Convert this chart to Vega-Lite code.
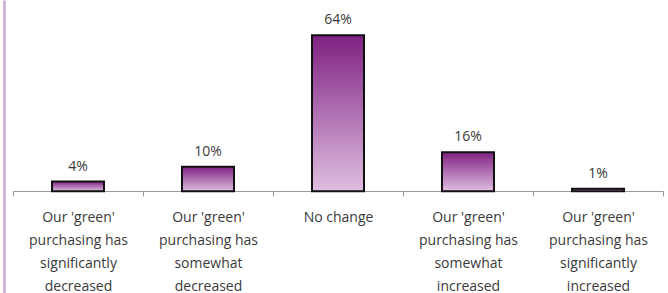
{
  "$schema": "https://vega.github.io/schema/vega-lite/v6.json",
  "width": 650,
  "height": 293,
  "autosize": {"type": "none"},
  "padding": {"left": 13, "top": 0, "right": 5, "bottom": 0},
  "background": "white",
  "config": {"view": {"stroke": null}, "font": "Open Sans"},
  "data": {"values": [
    {"category": "Our 'green'|purchasing has|significantly|decreased", "share": 4, "label": "4%"},
    {"category": "Our 'green'|purchasing has|somewhat|decreased", "share": 10, "label": "10%"},
    {"category": "No change", "share": 64, "label": "64%"},
    {"category": "Our 'green'|purchasing has|somewhat|increased", "share": 16, "label": "16%"},
    {"category": "Our 'green'|purchasing has|significantly|increased", "share": 1, "label": "1%"}
  ]},
  "encoding": {
    "x": {
      "field": "category", "type": "nominal", "sort": null,
      "scale": {"paddingInner": 0, "paddingOuter": 0},
      "axis": {
        "title": null, "labelAngle": 0, "offset": -102,
        "labelExpr": "split(datum.label, '|')",
        "labelFontSize": 14, "labelColor": "#3a3a3a", "labelLineHeight": 23,
        "labelPadding": 14, "labelFont": "Open Sans",
        "domainColor": "#9a9a9a", "tickColor": "#9a9a9a", "tickSize": 5,
        "tickBand": "extent", "labelBaseline": "top"
      }
    },
    "y": {
      "field": "share", "type": "quantitative",
      "scale": {"domain": [-41.7, 78.4], "nice": false, "zero": false},
      "axis": {"title": null, "labels": false, "ticks": false, "grid": false,
               "domainColor": "#c9a8d4", "domainWidth": 2.5, "offset": 9}
    }
  },
  "layer": [
    {
      "mark": {
        "type": "bar", "width": {"band": 0.4}, "stroke": "#111111", "strokeWidth": 2,
        "color": {"gradient": "linear", "x1": 0, "y1": 0, "x2": 0, "y2": 1,
                  "stops": [{"offset": 0, "color": "#7f2182"}, {"offset": 1, "color": "#dfbfe0"}]}
      },
      "encoding": {"y2": {"datum": 0}}
    },
    {
      "mark": {"type": "text", "dy": -15, "fontSize": 14, "color": "#3a3a3a", "font": "Open Sans"},
      "encoding": {"text": {"field": "label"}}
    }
  ]
}
